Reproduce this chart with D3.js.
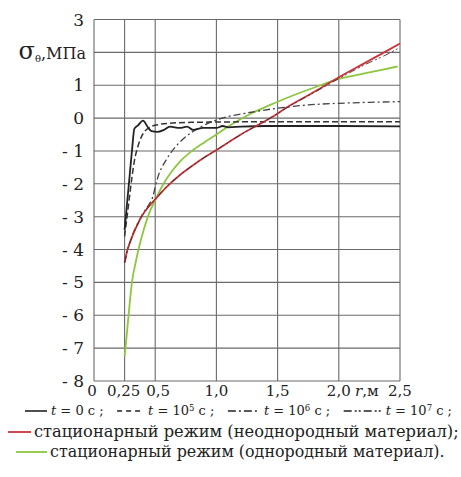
<!DOCTYPE html>
<html><head><meta charset="utf-8">
<script src="https://cdn.jsdelivr.net/npm/d3@7"></script>
<style>body{margin:0;background:#fff}svg{display:block}</style>
</head><body>
<script>
// ---- data ----
const xTicks = [0, 0.25, 0.5, 1.0, 1.5, 2.0, 2.5];
const xTickLabels = ["0", "0,25", "0,5", "1,0", "1,5", "2,0", "2,5"];
const yTicks = [3, 2, 1, 0, -1, -2, -3, -4, -5, -6, -7, -8];
const yTickLabels = ["3", "", "1", "0", "- 1", "- 2", "- 3", "- 4", "- 5", "- 6", "- 7", "- 8"];
const legendTimes = [null, "5", "6", "7"];

const t0 = [[0.25,-3.4],[0.27,-2.6],[0.29,-1.8],[0.31,-1.0],[0.33,-0.32],[0.36,-0.22],[0.40,-0.08],[0.44,-0.28],[0.47,-0.4],[0.52,-0.42],[0.57,-0.36],[0.62,-0.26],[0.70,-0.3],[0.76,-0.26],[0.81,-0.36],[0.89,-0.3],[1.0,-0.3],[1.05,-0.24],[1.1,-0.28],[1.2,-0.26],[1.4,-0.24],[1.7,-0.24],[2.0,-0.24],[2.5,-0.25]];
const t1e5 = [[0.25,-3.6],[0.27,-3.0],[0.29,-2.4],[0.31,-1.8],[0.33,-1.3],[0.36,-0.85],[0.39,-0.55],[0.42,-0.38],[0.46,-0.27],[0.52,-0.2],[0.6,-0.16],[0.8,-0.13],[1.0,-0.12],[1.5,-0.11],[2.0,-0.11],[2.5,-0.11]];
const t1e6 = [[0.25,-4.4],[0.3,-3.7],[0.35,-3.25],[0.4,-2.9],[0.45,-2.62],[0.48,-2.4],[0.5,-2.1],[0.52,-1.82],[0.59,-1.27],[0.66,-0.9],[0.73,-0.63],[0.8,-0.43],[0.87,-0.27],[0.93,-0.16],[1.0,-0.06],[1.1,0.05],[1.27,0.17],[1.5,0.3],[1.75,0.4],[2.0,0.45],[2.25,0.48],[2.5,0.5]];
const t1e7 = [[0.25,-4.4],[0.27,-4.05],[0.3,-3.72],[0.35,-3.28],[0.4,-2.93],[0.45,-2.68],[0.5,-2.47],[0.6,-2.07],[0.7,-1.74],[0.8,-1.46],[0.9,-1.2],[1.0,-0.97],[1.2,-0.5],[1.44,0],[1.6,0.37],[1.8,0.78],[2.0,1.2],[2.2,1.6],[2.4,1.95],[2.5,2.15]];
const statInhom = [[0.25,-4.4],[0.27,-4.05],[0.3,-3.72],[0.35,-3.28],[0.4,-2.93],[0.45,-2.68],[0.5,-2.47],[0.6,-2.07],[0.7,-1.74],[0.8,-1.46],[0.9,-1.2],[1.0,-0.97],[1.2,-0.5],[1.44,0],[1.6,0.38],[1.8,0.8],[2.0,1.24],[2.2,1.65],[2.4,2.06],[2.5,2.27]];
const statHom = [[0.25,-7.25],[0.27,-6.5],[0.29,-5.7],[0.31,-5.0],[0.34,-4.4],[0.37,-3.9],[0.41,-3.35],[0.45,-2.9],[0.5,-2.5],[0.56,-2.05],[0.63,-1.65],[0.7,-1.33],[0.8,-1.0],[0.9,-0.74],[1.0,-0.5],[1.1,-0.25],[1.2,-0.03],[1.3,0.17],[1.44,0.4],[1.6,0.65],[1.8,0.93],[2.0,1.19],[2.2,1.35],[2.35,1.47],[2.48,1.57]];

const W = 461, H = 477;
const FONT = "DejaVu Serif";
const svg = d3.select("body").append("svg").attr("width", W).attr("height", H)
  .style("font-family", FONT);
const x = d3.scaleLinear().domain([0, 2.5]).range([94, 400]);
const y = d3.scaleLinear().domain([-8, 3]).range([381, 19.5]);

function fitText(sel, target) {
  const len = sel.node().getComputedTextLength();
  const fs = parseFloat(sel.attr("font-size"));
  sel.attr("font-size", fs * target / len);
}

// grid
const g = svg.append("g");
g.selectAll("line.h").data(yTicks).enter().append("line")
  .attr("x1", x(0)).attr("x2", x(2.5)).attr("y1", d => y(d)).attr("y2", d => y(d))
  .attr("stroke", "#6a6a6a").attr("stroke-width", 1.1);
g.selectAll("line.v").data(xTicks).enter().append("line")
  .attr("y1", y(-8)).attr("y2", y(3)).attr("x1", d => x(d)).attr("x2", d => x(d))
  .attr("stroke", "#6a6a6a").attr("stroke-width", 1.1);

// y labels
svg.selectAll("text.yl").data(yTicks).enter().append("text")
  .attr("x", 84).attr("y", d => y(d) + 6).attr("text-anchor", "end")
  .attr("font-size", 17).attr("fill", "#222")
  .text((d, i) => yTickLabels[i]);
const yl = svg.append("text").attr("x", 86).attr("y", y(2) + 7).attr("text-anchor", "end")
  .attr("fill", "#222");
yl.append("tspan").attr("font-size", 24).text("σ");
yl.append("tspan").attr("font-size", 10).attr("dy", 3).text("θ");
yl.append("tspan").attr("font-size", 16).attr("dy", -3).text(",МПа");

// x labels
svg.selectAll("text.xl").data(xTicks).enter().append("text")
  .attr("x", (d, i) => x(d) - (i === 0 ? 2 : 0) + (i === 2 ? 3 : 0) - (i === 1 ? 1 : 0)).attr("y", 396).attr("text-anchor", "middle")
  .attr("font-size", 15).attr("fill", "#222")
  .text((d, i) => xTickLabels[i]);
const rl = svg.append("text").attr("x", 355).attr("y", 396)
  .attr("font-size", 15).attr("fill", "#222");
rl.append("tspan").attr("font-style", "italic").text("r");
rl.append("tspan").text(",м");

// curves
const line = d3.line().x(d => x(d[0])).y(d => y(d[1])).curve(d3.curveMonotoneX);
const series = [
  {d: statHom, c: "#8dc63f", w: 1.8, dash: null},
  {d: t1e6, c: "#444", w: 1.3, dash: "7,3,2,3"},
  {d: t1e5, c: "#333", w: 1.5, dash: "6,3"},
  {d: t0, c: "#222", w: 1.8, dash: null},
  {d: statInhom, c: "#c9353b", w: 1.8, dash: null},
  {d: t1e7, c: "#4a2a2a", w: 0.9, dash: "7,3,2,2,2,3"}
];
series.forEach(s => {
  svg.append("path").attr("d", line(s.d)).attr("fill", "none")
    .attr("stroke", s.c).attr("stroke-width", s.w)
    .attr("stroke-dasharray", s.dash);
});

// legend row 1 (sequential layout fitted to 25..452)
const L = svg.append("g").attr("fill", "#222");
const ly1 = 411;
const legStyles = [
  {len: 22, dash: null},
  {len: 27, dash: "5,4"},
  {len: 32, dash: "8,3,2,3"},
  {len: 38, dash: "8,3,2,2,2,3"}
];
const fs1 = 13;
const texts = legStyles.map((o, i) => {
  const sup = legendTimes[i];
  const t = L.append("text").attr("y", ly1 + 4).attr("font-size", fs1);
  t.append("tspan").attr("font-style", "italic").text("t");
  if (sup === null) {
    t.append("tspan").text(" = 0 с ;");
  } else {
    t.append("tspan").text(" = 10");
    t.append("tspan").attr("font-size", 8.5).attr("dy", -4).text(sup);
    t.append("tspan").attr("dy", 4).text(" с ;");
  }
  return t;
});
const widths = texts.map(t => t.node().getComputedTextLength());
const fixed = d3.sum(legStyles, o => o.len) + d3.sum(widths);
const gapIn = 4;
const gapOut = Math.max(3, (452 - 25 - fixed - 4 * gapIn) / 3);
let cx = 25;
legStyles.forEach((o, i) => {
  L.append("line").attr("x1", cx).attr("x2", cx + o.len).attr("y1", ly1).attr("y2", ly1)
    .attr("stroke", "#222").attr("stroke-width", 1.6).attr("stroke-dasharray", o.dash);
  cx += o.len + gapIn;
  texts[i].attr("x", cx);
  cx += widths[i] + gapOut;
});

// legend rows 2-3
L.append("line").attr("x1", 8).attr("x2", 31).attr("y1", 432).attr("y2", 432)
  .attr("stroke", "#c9353b").attr("stroke-width", 1.8);
const t2 = L.append("text").attr("x", 34).attr("y", 437).attr("font-size", 16)
  .text("стационарный режим (неоднородный материал);");
fitText(t2, 425);
L.append("line").attr("x1", 16).attr("x2", 47).attr("y1", 452).attr("y2", 452)
  .attr("stroke", "#8dc63f").attr("stroke-width", 1.8);
const t3 = L.append("text").attr("x", 50).attr("y", 457).attr("font-size", 16)
  .text("стационарный режим (однородный материал).");
fitText(t3, 395);
</script>
</body></html>
